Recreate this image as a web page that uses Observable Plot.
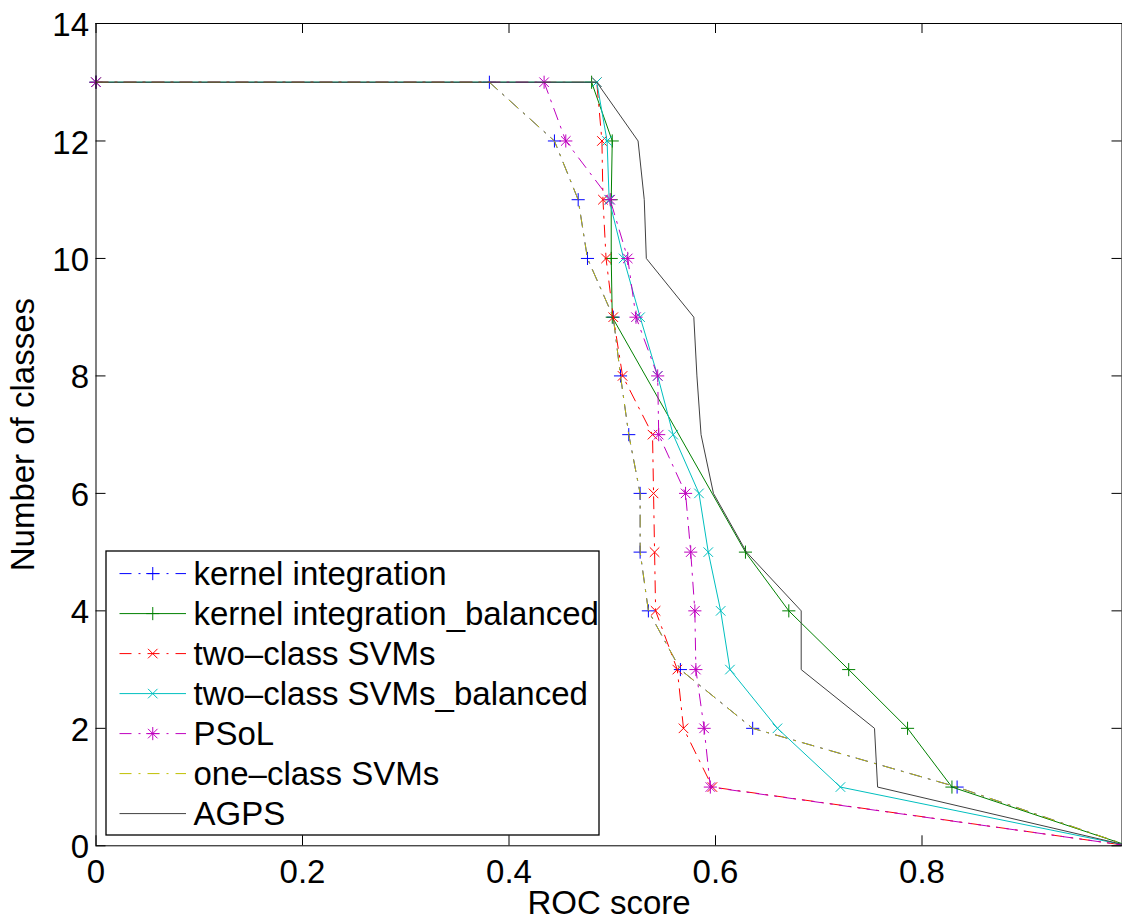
<!DOCTYPE html>
<html><head><meta charset="utf-8">
<script src="https://cdn.jsdelivr.net/npm/d3@7"></script>
<script src="https://cdn.jsdelivr.net/npm/@observablehq/plot@0.6"></script>
<style>
html,body{margin:0;padding:0;background:#fff;}
#wrap{position:relative;width:1122px;height:915px;overflow:hidden;font-family:"Liberation Sans",Arial,Helvetica,sans-serif;}
</style></head><body><div id="wrap"></div>
<script>
// ---- data ----
const classes = [13, 13, 12, 11, 10, 9, 8, 7, 6, 5, 4, 3, 2, 1, 0];
const classesBalanced = [13, 13, 12, 11, 10, 9, 5, 4, 3, 2, 1, 0];
const kernelIntegration = [0, 0.381, 0.444, 0.467, 0.476, 0.501, 0.508, 0.516, 0.527, 0.527, 0.535, 0.566, 0.636, 0.834, 1];
const kernelIntegrationBalanced = [0, 0.480, 0.500, 0.499, 0.499, 0.500, 0.629, 0.671, 0.729, 0.786, 0.829, 1];
const twoClassSVMs = [0, 0.485, 0.490, 0.491, 0.494, 0.501, 0.510, 0.539, 0.540, 0.541, 0.542, 0.563, 0.569, 0.597, 1];
const twoClassSVMsBalanced = [0, 0.485, 0.495, 0.497, 0.511, 0.527, 0.544, 0.559, 0.584, 0.593, 0.605, 0.614, 0.660, 0.721, 1];
const psol = [0, 0.434, 0.455, 0.498, 0.515, 0.523, 0.544, 0.545, 0.571, 0.576, 0.580, 0.581, 0.589, 0.595, 1];
const oneClassSVMs = [0, 0.381, 0.444, 0.467, 0.476, 0.501, 0.508, 0.516, 0.527, 0.527, 0.535, 0.566, 0.636, 0.834, 1];
const agps = [0, 0.485, 0.525, 0.531, 0.533, 0.579, 0.582, 0.586, 0.598, 0.630, 0.683, 0.683, 0.754, 0.757, 1];

const seriesNames = ["kernel integration", "kernel integration_balanced", "two\u2013class SVMs", "two\u2013class SVMs_balanced", "PSoL", "one\u2013class SVMs", "AGPS"];
const xTicks = [0, 0.2, 0.4, 0.6, 0.8];
const yTicks = [0, 2, 4, 6, 8, 10, 12, 14];
const xLabel = "ROC score";
const yLabel = "Number of classes";

// ---- styles ----
const colors = ["#0000ff", "#008000", "#ff0000", "#00bfbf", "#bf00bf", "#bfbf00", "#404040"];
const dashDot = "12,7,2,7";
const dashes = [dashDot, null, dashDot, null, dashDot, dashDot, null];
const markers = ["plus", "plus", "times", "times", "star", null, null];
const xsList = [kernelIntegration, kernelIntegrationBalanced, twoClassSVMs, twoClassSVMsBalanced, psol, oneClassSVMs, agps];
const ysList = [classes, classesBalanced, classes, classes, classes, classes, classes];

const FONT = "33px";
const FAMILY = '"Liberation Sans", Arial, Helvetica, sans-serif';
const PLUS_R = 4.3, TIMES_R = 4.4;
const W = 1122, H = 915, ML = 95.5, MR = 0.5, MT = 23, MB = 69.7;
const plotW = W - ML - MR, plotH = H - MT - MB, TICK = 10;
const fmt = d => String(d);

const series = seriesNames.map((name, i) => ({
  name, color: colors[i], dash: dashes[i], marker: markers[i],
  rows: xsList[i].map((x, j) => ({x, y: ysList[i][j], last: j === xsList[i].length - 1}))
}));

const marks = [];
for (const s of series) {
  marks.push(Plot.line(s.rows, {x: "x", y: "y", stroke: s.color, strokeWidth: 1, strokeDasharray: s.dash, clip: true}));
  if (s.marker) {
    const pts = s.rows.filter(d => !d.last);
    if (s.marker === "plus" || s.marker === "star")
      marks.push(Plot.dot(pts, {x: "x", y: "y", symbol: "plus", r: PLUS_R, stroke: s.color, strokeWidth: 1}));
    if (s.marker === "times" || s.marker === "star")
      marks.push(Plot.dot(pts, {x: "x", y: "y", symbol: "times", r: TIMES_R, stroke: s.color, strokeWidth: 1}));
  }
}

const chart = Plot.plot({
  width: W, height: H,
  marginLeft: ML, marginRight: MR, marginTop: MT, marginBottom: MB,
  x: {domain: [0, 0.9937]},
  y: {domain: [0, 14]},
  style: {fontFamily: FAMILY, fontSize: FONT, background: "white", color: "black"},
  marks: [
    ...marks,
    // inward ticks on all four sides (MATLAB box style)
    Plot.tickX(xTicks, {x: d => d, insetTop: plotH - TICK, stroke: "black", strokeWidth: 1}),
    Plot.tickX(xTicks, {x: d => d, insetBottom: plotH - TICK, stroke: "black", strokeWidth: 1}),
    Plot.tickY(yTicks, {y: d => d, insetRight: plotW - TICK, stroke: "black", strokeWidth: 1}),
    Plot.tickY(yTicks, {y: d => d, insetLeft: plotW - TICK, stroke: "black", strokeWidth: 1}),
    Plot.frame({stroke: "black", strokeWidth: 1}),
    Plot.axisX(xTicks, {anchor: "bottom", tickSize: 0, tickPadding: 14, fontSize: FONT, tickFormat: fmt,
      label: xLabel, labelAnchor: "center", labelArrow: "none", labelOffset: 68.5}),
    Plot.axisY(yTicks, {anchor: "left", tickSize: 0, tickPadding: 7, fontSize: FONT, tickFormat: fmt, dy: 2,
      label: yLabel, labelAnchor: "center", labelArrow: "none", labelOffset: 85})
  ]
});
const wrap = document.getElementById("wrap");
wrap.appendChild(chart);

// ---- legend (inside the plot area, lower left) ----
const L = {left: 106, top: 551, width: 493, height: 284, row: 40, first: 22.6, x0: 13.5, x1: 80, text: 87.5};
const svg = d3.select(wrap).append("svg")
  .attr("width", W).attr("height", H)
  .style("position", "absolute").style("left", "0px").style("top", "0px").style("pointer-events", "none");
const g = svg.append("g").attr("transform", `translate(${L.left},${L.top})`);
g.append("rect").attr("x", 0).attr("y", 0).attr("width", L.width).attr("height", L.height)
  .attr("fill", "white").attr("stroke", "black").attr("stroke-width", 1.3);
const plusSize = Math.PI * PLUS_R * PLUS_R, timesSize = Math.PI * TIMES_R * TIMES_R;
series.forEach((s, i) => {
  const cy = L.first + i * L.row;
  g.append("line").attr("x1", L.x0).attr("x2", L.x1).attr("y1", cy).attr("y2", cy)
    .attr("stroke", s.color).attr("stroke-width", 1).attr("stroke-dasharray", s.dash);
  const cx = (L.x0 + L.x1) / 2;
  if (s.marker === "plus" || s.marker === "star")
    g.append("path").attr("d", d3.symbol(d3.symbolPlus, plusSize)()).attr("transform", `translate(${cx},${cy})`)
      .attr("fill", "none").attr("stroke", s.color).attr("stroke-width", 1);
  if (s.marker === "times" || s.marker === "star")
    g.append("path").attr("d", d3.symbol(d3.symbolTimes, timesSize)()).attr("transform", `translate(${cx},${cy})`)
      .attr("fill", "none").attr("stroke", s.color).attr("stroke-width", 1);
  g.append("text").attr("x", L.text).attr("y", cy + 11.8).text(s.name)
    .attr("font-size", FONT).attr("fill", "black").attr("font-family", FAMILY);
});
</script></body></html>
